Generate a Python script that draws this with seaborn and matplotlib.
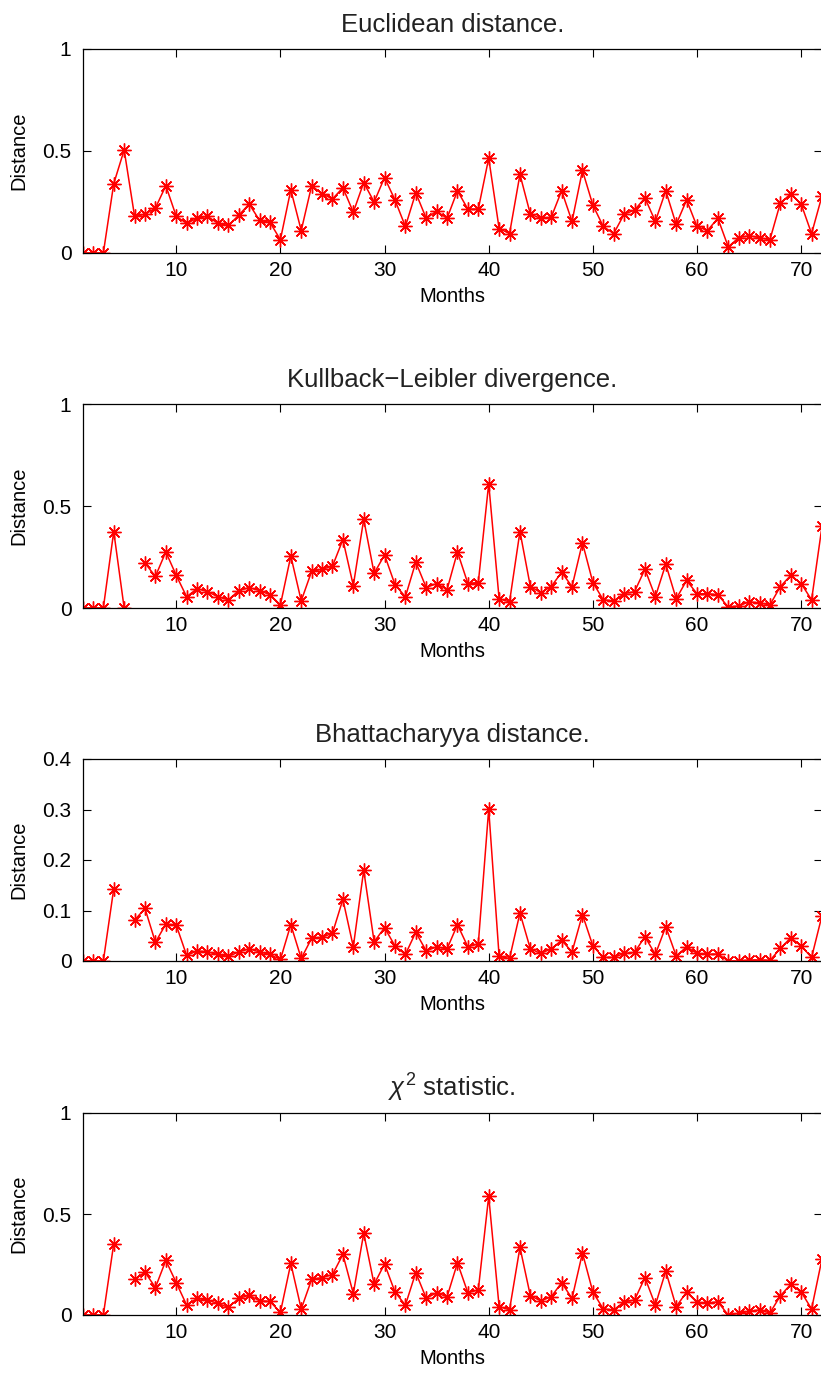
import numpy as np
import pandas as pd
import matplotlib
matplotlib.use("Agg")
import matplotlib.pyplot as plt
import seaborn as sns

nan = np.nan
months = list(range(1, 73))

euclidean = [0, 0, 0, 0.34, 0.505, 0.18, 0.19, 0.22, 0.33, 0.18,
             0.145, 0.17, 0.18, 0.145, 0.135, 0.185, 0.24, 0.16, 0.15, 0.065,
             0.31, 0.11, 0.33, 0.29, 0.265, 0.32, 0.20, 0.345, 0.25, 0.37,
             0.26, 0.13, 0.295, 0.17, 0.205, 0.17, 0.305, 0.215, 0.215, 0.465,
             0.12, 0.095, 0.385, 0.19, 0.17, 0.175, 0.305, 0.155, 0.405, 0.235,
             0.13, 0.095, 0.19, 0.21, 0.27, 0.155, 0.305, 0.14, 0.26, 0.13,
             0.11, 0.17, 0.03, 0.075, 0.085, 0.075, 0.065, 0.245, 0.29, 0.24,
             0.095, 0.28]

kullback = [0, 0, 0, 0.375, 0, nan, 0.22, 0.155, 0.275, 0.16,
            0.055, 0.095, 0.08, 0.055, 0.04, 0.085, 0.10, 0.085, 0.065, 0.015,
            0.255, 0.035, 0.18, 0.19, 0.205, 0.335, 0.11, 0.435, 0.17, 0.26,
            0.115, 0.055, 0.225, 0.10, 0.12, 0.09, 0.275, 0.12, 0.125, 0.61,
            0.045, 0.03, 0.375, 0.105, 0.075, 0.105, 0.175, 0.105, 0.32, 0.125,
            0.04, 0.035, 0.07, 0.08, 0.19, 0.055, 0.215, 0.045, 0.135, 0.07,
            0.07, 0.065, 0.005, 0.01, 0.03, 0.025, 0.015, 0.105, 0.16, 0.12,
            0.04, 0.40]

bhattacharyya = [0, 0, 0, 0.143, nan, 0.081, 0.104, 0.037, 0.073, 0.071,
                 0.011, 0.02, 0.018, 0.013, 0.009, 0.018, 0.024, 0.018, 0.013, 0.003,
                 0.072, 0.005, 0.045, 0.047, 0.055, 0.122, 0.028, 0.18, 0.038, 0.066,
                 0.03, 0.013, 0.057, 0.02, 0.028, 0.024, 0.072, 0.028, 0.034, 0.301,
                 0.009, 0.005, 0.095, 0.024, 0.015, 0.024, 0.041, 0.018, 0.092, 0.03,
                 0.007, 0.007, 0.015, 0.017, 0.048, 0.013, 0.068, 0.01, 0.028, 0.015,
                 0.013, 0.014, 0.0, 0.0, 0.002, 0.002, 0.001, 0.025, 0.046, 0.03,
                 0.007, 0.09]

chi_square = [0, 0, 0, 0.353, nan, 0.176, 0.212, 0.136, 0.27, 0.16,
              0.049, 0.082, 0.074, 0.057, 0.038, 0.082, 0.098, 0.07, 0.067, 0.013,
              0.255, 0.03, 0.176, 0.185, 0.20, 0.30, 0.106, 0.405, 0.152, 0.253,
              0.114, 0.049, 0.21, 0.083, 0.11, 0.09, 0.258, 0.11, 0.124, 0.588,
              0.041, 0.026, 0.335, 0.095, 0.07, 0.09, 0.16, 0.082, 0.307, 0.114,
              0.03, 0.025, 0.065, 0.074, 0.185, 0.049, 0.217, 0.041, 0.114, 0.062,
              0.059, 0.065, 0.0, 0.008, 0.018, 0.025, 0.01, 0.095, 0.152, 0.114,
              0.03, 0.278]

titles = ["Euclidean distance.", "Kullback\u2212Leibler divergence.",
          "Bhattacharyya distance.", r"$\chi^2$ statistic."]
x_ticks = [10, 20, 30, 40, 50, 60, 70]
y_ticks_unit = [0, 0.5, 1]
y_labels_unit = ["0", "0.5", "1"]
y_ticks_bhat = [0, 0.1, 0.2, 0.3, 0.4]
y_labels_bhat = ["0", "0.1", "0.2", "0.3", "0.4"]

sns.set_style("ticks")
plt.rcParams["font.family"] = ["Liberation Sans", "DejaVu Sans"]
plt.rcParams["mathtext.fontset"] = "custom"
plt.rcParams["mathtext.rm"] = "Liberation Sans"
plt.rcParams["mathtext.it"] = "Liberation Sans:italic"
plt.rcParams["text.color"] = "black"
plt.rcParams["axes.labelcolor"] = "black"

fig = plt.figure(figsize=(8.21, 13.76), dpi=100)

# axes boxes in pixels: (top, bottom)
boxes = [(49, 253), (404, 608), (759, 961), (1113, 1315)]
left_px, right_px = 82.5, 822.0
W, H = 821.0, 1376.0

series = [euclidean, kullback, bhattacharyya, chi_square]
yspecs = [(y_ticks_unit, y_labels_unit), (y_ticks_unit, y_labels_unit),
          (y_ticks_bhat, y_labels_bhat), (y_ticks_unit, y_labels_unit)]

for (top, bot), vals, title, (yt, yl) in zip(boxes, series, titles, yspecs):
    ax = fig.add_axes([left_px / W, 1 - bot / H, (right_px - left_px) / W, (bot - top) / H])
    df = pd.DataFrame({"month": months, "dist": vals})
    # break the line where a value is missing
    df["seg"] = df["dist"].isna().cumsum()
    df = df.dropna()
    sns.lineplot(data=df, x="month", y="dist", units="seg", estimator=None,
                 color="red", linewidth=1.1, marker=(8, 2, 0), markersize=10,
                 markeredgewidth=1.0, markeredgecolor="red", ax=ax)
    ax.set_xlim(1, 72)
    ax.set_ylim(yt[0], yt[-1])
    ax.set_xticks(x_ticks)
    ax.set_yticks(yt)
    ax.set_yticklabels(yl)
    ax.tick_params(direction="in", length=5.5, width=0.8, top=True, right=True,
                   labelsize=15, colors="black")
    ax.tick_params(axis="x", pad=6)
    ax.tick_params(axis="y", pad=8)
    for s in ax.spines.values():
        s.set_linewidth(0.9)
        s.set_color("black")
    ax.set_xlabel("Months", fontsize=14.5, labelpad=5)
    ax.set_ylabel("Distance", fontsize=14.5, labelpad=10)
    ax.set_title(title, fontsize=18.5, pad=12, color="#222222")

fig.savefig("out.png", dpi=100)
